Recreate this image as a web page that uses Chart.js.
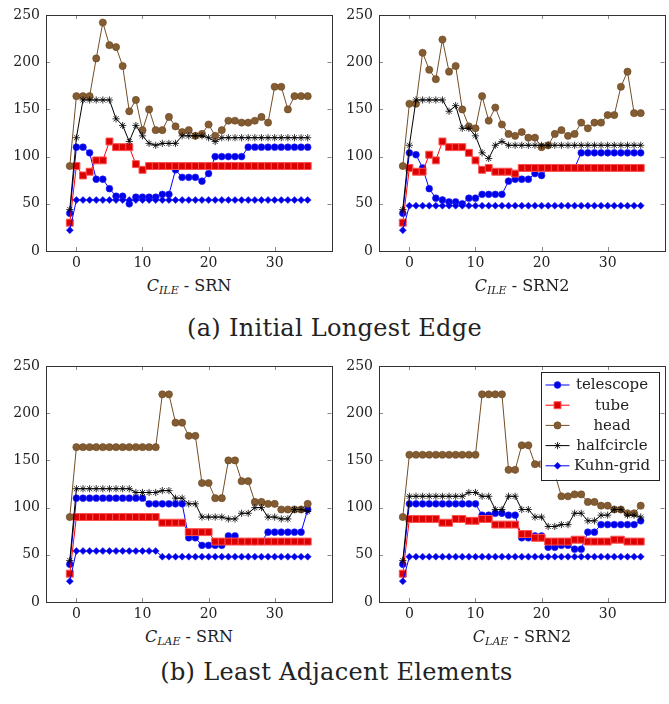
<!DOCTYPE html>
<html>
<head>
<meta charset="utf-8">
<script src="https://cdn.jsdelivr.net/npm/chart.js@4.4.1/dist/chart.umd.min.js"></script>
<style>
  body { margin: 0; width: 669px; height: 704px; background: #fff; position: relative; overflow: hidden; font-family: "DejaVu Serif", "Liberation Serif", serif; color: #222; }
  canvas { position: absolute; }
  .xtitle { position: absolute; width: 300px; text-align: center; font-size: 16px; line-height: 20px; white-space: nowrap; }
  .xtitle sub { font-size: 11px; vertical-align: -3px; }
  .caption { position: absolute; left: 0; width: 669px; text-align: center; font-size: 24px; line-height: 28px; letter-spacing: 0.3px; }
</style>
</head>
<body>
<canvas id="c1" width="340" height="270" style="left:0;top:0"></canvas>
<canvas id="c2" width="340" height="270" style="left:333px;top:0"></canvas>
<canvas id="c3" width="340" height="270" style="left:0;top:351px"></canvas>
<canvas id="c4" width="340" height="270" style="left:333px;top:351px"></canvas>

<div class="xtitle" style="left:39px;top:276px"><i>C</i><sub><i>ILE</i></sub> - SRN</div>
<div class="xtitle" style="left:372px;top:276px"><i>C</i><sub><i>ILE</i></sub> - SRN2</div>
<div class="caption" style="top:314px">(a) Initial Longest Edge</div>
<div class="xtitle" style="left:39px;top:627px"><i>C</i><sub><i>LAE</i></sub> - SRN</div>
<div class="xtitle" style="left:372px;top:627px"><i>C</i><sub><i>LAE</i></sub> - SRN2</div>
<div class="caption" style="top:658px;left:2px">(b) Least Adjacent Elements</div>

<script>
// x positions shared by every panel
const xValues = [-1, 0, 1, 2, 3, 4, 5, 6, 7, 8, 9, 10, 11, 12, 13, 14, 15, 16, 17, 18, 19, 20, 21, 22, 23, 24, 25, 26, 27, 28, 29, 30, 31, 32, 33, 34, 35]
const xTicks = [0, 10, 20, 30]
const yTicks = [0, 50, 100, 150, 200, 250]
const seriesNames = ["telescope", "tube", "head", "halfcircle", "Kuhn-grid"]

// (a) C_ILE - SRN
const ileSrnTelescope = [40, 110, 110, 104, 76, 76, 66, 58, 58, 50, 57, 57, 57, 57, 60, 60, 86, 78, 78, 78, 74, 82, 100, 100, 100, 100, 100, 110, 110, 110, 110, 110, 110, 110, 110, 110, 110]
const ileSrnTube = [30, 90, 80, 84, 96, 96, 116, 110, 110, 110, 92, 86, 90, 90, 90, 90, 90, 90, 90, 90, 90, 90, 90, 90, 90, 90, 90, 90, 90, 90, 90, 90, 90, 90, 90, 90, 90]
const ileSrnHead = [90, 164, 164, 164, 204, 242, 218, 216, 196, 148, 160, 128, 150, 128, 128, 142, 132, 126, 128, 122, 124, 134, 122, 128, 138, 138, 136, 136, 138, 142, 136, 174, 174, 150, 164, 164, 164]
const ileSrnHalfcircle = [44, 120, 160, 160, 160, 160, 160, 140, 133, 116, 133, 122, 114, 112, 114, 114, 114, 122, 122, 122, 122, 120, 116, 120, 120, 120, 120, 120, 120, 120, 120, 120, 120, 120, 120, 120, 120]
const ileSrnKuhn = [22, 54, 54, 54, 54, 54, 54, 54, 54, 54, 54, 54, 54, 54, 54, 54, 54, 54, 54, 54, 54, 54, 54, 54, 54, 54, 54, 54, 54, 54, 54, 54, 54, 54, 54, 54, 54]

// (a) C_ILE - SRN2
const ileSrn2Telescope = [40, 104, 102, 88, 66, 56, 54, 52, 52, 50, 56, 56, 60, 60, 60, 60, 74, 76, 76, 76, 82, 80, 88, 88, 88, 88, 88, 104, 104, 104, 104, 104, 104, 104, 104, 104, 104]
const ileSrn2Tube = [30, 88, 84, 84, 102, 96, 116, 110, 110, 110, 104, 96, 86, 88, 84, 84, 84, 82, 88, 88, 88, 88, 88, 88, 88, 88, 88, 88, 88, 88, 88, 88, 88, 88, 88, 88, 88]
const ileSrn2Head = [90, 156, 156, 210, 192, 182, 224, 190, 196, 150, 132, 130, 164, 138, 152, 134, 124, 122, 126, 120, 120, 110, 112, 124, 128, 122, 124, 136, 130, 136, 136, 144, 144, 174, 190, 146, 146]
const ileSrn2Halfcircle = [44, 112, 160, 160, 160, 160, 160, 148, 154, 130, 130, 122, 104, 98, 112, 116, 112, 112, 112, 112, 112, 112, 112, 112, 112, 112, 112, 112, 112, 112, 112, 112, 112, 112, 112, 112, 112]
const ileSrn2Kuhn = [22, 48, 48, 48, 48, 48, 48, 48, 48, 48, 48, 48, 48, 48, 48, 48, 48, 48, 48, 48, 48, 48, 48, 48, 48, 48, 48, 48, 48, 48, 48, 48, 48, 48, 48, 48, 48]

// (b) C_LAE - SRN
const laeSrnTelescope = [40, 110, 110, 110, 110, 110, 110, 110, 110, 110, 110, 110, 104, 104, 104, 104, 104, 104, 68, 68, 60, 60, 60, 60, 70, 70, 64, 64, 64, 64, 74, 74, 74, 74, 74, 74, 98]
const laeSrnTube = [30, 90, 90, 90, 90, 90, 90, 90, 90, 90, 90, 90, 90, 90, 84, 84, 84, 84, 74, 74, 74, 74, 64, 64, 64, 64, 64, 64, 64, 64, 64, 64, 64, 64, 64, 64, 64]
const laeSrnHead = [90, 164, 164, 164, 164, 164, 164, 164, 164, 164, 164, 164, 164, 164, 220, 220, 190, 190, 176, 176, 126, 126, 110, 110, 150, 150, 128, 128, 106, 106, 104, 104, 98, 98, 98, 98, 104]
const laeSrnHalfcircle = [44, 120, 120, 120, 120, 120, 120, 120, 120, 120, 116, 116, 116, 116, 118, 118, 110, 110, 104, 104, 90, 90, 90, 90, 88, 88, 94, 94, 100, 100, 90, 90, 88, 88, 98, 98, 96]
const laeSrnKuhn = [22, 54, 54, 54, 54, 54, 54, 54, 54, 54, 54, 54, 54, 54, 48, 48, 48, 48, 48, 48, 48, 48, 48, 48, 48, 48, 48, 48, 48, 48, 48, 48, 48, 48, 48, 48, 48]

// (b) C_LAE - SRN2
const laeSrn2Telescope = [40, 104, 104, 104, 104, 104, 104, 104, 104, 104, 104, 104, 92, 92, 94, 94, 92, 92, 68, 68, 70, 70, 58, 58, 60, 60, 56, 56, 74, 74, 82, 82, 82, 82, 82, 82, 86]
const laeSrn2Tube = [30, 88, 88, 88, 88, 88, 84, 84, 88, 88, 86, 86, 88, 88, 82, 82, 82, 82, 72, 72, 68, 68, 64, 64, 64, 64, 66, 66, 64, 64, 64, 64, 66, 66, 64, 64, 64]
const laeSrn2Head = [90, 156, 156, 156, 156, 156, 156, 156, 156, 156, 156, 156, 220, 220, 220, 220, 140, 140, 166, 166, 146, 146, 146, 136, 112, 112, 114, 114, 106, 106, 102, 102, 98, 98, 94, 94, 102]
const laeSrn2Halfcircle = [44, 112, 112, 112, 112, 112, 112, 112, 112, 112, 116, 116, 112, 112, 98, 98, 112, 112, 98, 98, 90, 90, 80, 80, 82, 82, 94, 94, 86, 86, 92, 92, 98, 98, 92, 92, 90]
const laeSrn2Kuhn = [22, 48, 48, 48, 48, 48, 48, 48, 48, 48, 48, 48, 48, 48, 48, 48, 48, 48, 48, 48, 48, 48, 48, 48, 48, 48, 48, 48, 48, 48, 48, 48, 48, 48, 48, 48, 48]

// pgfplots default cycle list look
const seriesStyles = [
  { borderColor: "#0000ff", pointStyle: "circle", pointRadius: 3.4, pointBackgroundColor: "#0000e6", pointBorderColor: "#2a2aff", pointBorderWidth: 0.6 },
  { borderColor: "#ff0000", pointStyle: "rect", pointRadius: 4.9, pointBackgroundColor: "#dd0000", pointBorderColor: "#ff5050", pointBorderWidth: 1 },
  { borderColor: "#734d26", pointStyle: "circle", pointRadius: 3.6, pointBackgroundColor: "#845c32", pointBorderColor: "#6b4622", pointBorderWidth: 0.6 },
  { borderColor: "#000000", pointStyle: "star", pointRadius: 3.6, pointBackgroundColor: "#000000", pointBorderColor: "#000000", pointBorderWidth: 0.8 },
  { borderColor: "#0000ff", pointStyle: "rectRot", pointRadius: 3.5, pointBackgroundColor: "#0000e6", pointBorderColor: "#2a2aff", pointBorderWidth: 0.6 },
]

const serifStack = '"DejaVu Serif", "Liberation Serif", serif'
const tickFont = { family: serifStack, size: 14 }

// frame + inward tick marks like pgfplots
const framePlugin = {
  id: "frame",
  beforeDatasetsDraw(chart) {
    const { ctx, chartArea: a, scales } = chart
    ctx.save()
    ctx.strokeStyle = "#8a8a8a"
    ctx.lineWidth = 1
    ctx.beginPath()
    xTicks.forEach((v) => {
      const px = Math.round(scales.x.getPixelForValue(v)) + 0.5
      ctx.moveTo(px, a.bottom); ctx.lineTo(px, a.bottom - 4)
      ctx.moveTo(px, a.top); ctx.lineTo(px, a.top + 4)
    })
    yTicks.forEach((v) => {
      const py = Math.round(scales.y.getPixelForValue(v)) + 0.5
      ctx.moveTo(a.left, py); ctx.lineTo(a.left + 4, py)
      ctx.moveTo(a.right, py); ctx.lineTo(a.right - 4, py)
    })
    ctx.stroke()
    ctx.restore()
  },
  afterDraw(chart) {
    const { ctx, chartArea: a } = chart
    ctx.save()
    ctx.strokeStyle = "#333"
    ctx.lineWidth = 1
    ctx.strokeRect(Math.round(a.left) + 0.5, Math.round(a.top) + 0.5, Math.round(a.right - a.left), Math.round(a.bottom - a.top))
    ctx.restore()
  },
}

// boxed legend inside the last panel, text centred in its column
const boxLegendPlugin = {
  id: "boxLegend",
  afterDraw(chart) {
    const { ctx, chartArea: a } = chart
    const w = 118, h = 108
    const left = a.right - 6 - w, top = a.top + 5.5
    ctx.save()
    ctx.fillStyle = "#fff"
    ctx.fillRect(left, top, w, h)
    ctx.strokeStyle = "#222"
    ctx.lineWidth = 1
    ctx.strokeRect(Math.round(left) + 0.5, Math.round(top) + 0.5, w, h)
    chart.data.datasets.forEach((ds, i) => {
      const cy = top + 13.5 + i * 20.2
      ctx.strokeStyle = ds.borderColor
      ctx.lineWidth = 1
      ctx.beginPath()
      ctx.moveTo(left + 5, cy); ctx.lineTo(left + 29, cy)
      ctx.stroke()
      ctx.fillStyle = ds.pointBackgroundColor
      ctx.strokeStyle = ds.pointBorderColor
      ctx.lineWidth = ds.pointBorderWidth
      Chart.helpers.drawPoint(ctx, { pointStyle: ds.pointStyle, radius: ds.pointRadius, rotation: 0, borderWidth: ds.pointBorderWidth }, left + 17, cy)
      ctx.fillStyle = "#222"
      ctx.font = "15px " + serifStack
      ctx.textAlign = "center"
      ctx.textBaseline = "middle"
      ctx.fillText(ds.label, left + 71.5, cy + 0.5)
    })
    ctx.restore()
  },
}

const makeChart = (id, series, withLegend) => {
  const datasets = series.map((values, i) => ({
    label: seriesNames[i],
    data: xValues.map((x, k) => ({ x: x, y: values[k] })),
    borderWidth: 1,
    tension: 0,
    fill: false,
    order: series.length - i,
    ...seriesStyles[i],
  }))
  return new Chart(document.getElementById(id), {
    type: "line",
    data: { datasets: datasets },
    options: {
      responsive: false,
      animation: false,
      layout: { padding: { top: 15, right: 8.5, left: 0, bottom: 0 } },
      plugins: { legend: { display: false }, tooltip: { enabled: false } },
      scales: {
        x: {
          type: "linear",
          min: -4.6,
          max: 38.6,
          afterBuildTicks: (s) => { s.ticks = xTicks.map((v) => ({ value: v })) },
          afterFit: (s) => { s.height = 19 },
          grid: { display: false, drawTicks: false },
          border: { display: false },
          ticks: { font: tickFont, color: "#222", padding: 4, maxRotation: 0 },
        },
        y: {
          type: "linear",
          min: 0,
          max: 250,
          afterBuildTicks: (s) => { s.ticks = yTicks.map((v) => ({ value: v })) },
          afterFit: (s) => { s.width = 46 },
          grid: { display: false, drawTicks: false },
          border: { display: false },
          ticks: { font: tickFont, color: "#222", padding: 6 },
        },
      },
    },
    plugins: withLegend ? [framePlugin, boxLegendPlugin] : [framePlugin],
  })
}

makeChart("c1", [ileSrnTelescope, ileSrnTube, ileSrnHead, ileSrnHalfcircle, ileSrnKuhn], false)
makeChart("c2", [ileSrn2Telescope, ileSrn2Tube, ileSrn2Head, ileSrn2Halfcircle, ileSrn2Kuhn], false)
makeChart("c3", [laeSrnTelescope, laeSrnTube, laeSrnHead, laeSrnHalfcircle, laeSrnKuhn], false)
makeChart("c4", [laeSrn2Telescope, laeSrn2Tube, laeSrn2Head, laeSrn2Halfcircle, laeSrn2Kuhn], true)
</script>
</body>
</html>
